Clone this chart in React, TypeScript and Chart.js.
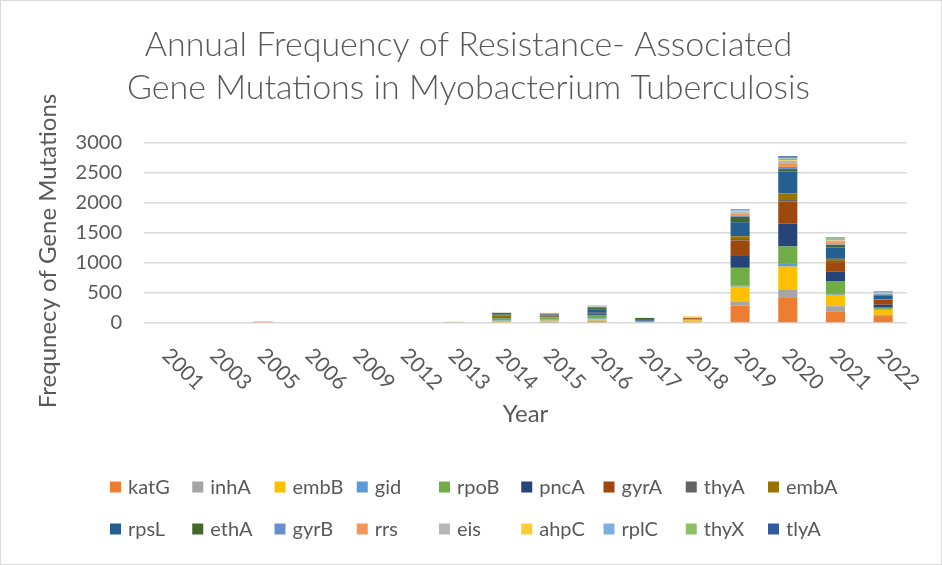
import { useEffect, useRef } from 'react';
import { Chart, registerables } from 'chart.js';

Chart.register(...registerables);

const years = ['2001', '2003', '2005', '2006', '2009', '2012', '2013', '2014', '2015', '2016', '2017', '2018', '2019', '2020', '2021', '2022'];

// one array per gene, same order as years
const katG = [0, 0, 0, 0, 0, 0, 0, 0, 10, 30, 0, 15, 290, 430, 195, 115];
const inhA = [0, 0, 0, 0, 0, 0, 0, 10, 10, 10, 0, 0, 70, 120, 85, 20];
const embB = [0, 0, 0, 0, 0, 0, 0, 25, 20, 25, 0, 30, 245, 390, 190, 85];
const gid = [0, 0, 0, 0, 0, 0, 0, 10, 20, 10, 15, 0, 15, 45, 15, 15];
const rpoB = [0, 0, 0, 0, 0, 0, 0, 30, 35, 60, 15, 15, 300, 290, 215, 20];
const pncA = [0, 0, 0, 0, 0, 0, 0, 10, 10, 25, 10, 0, 210, 380, 160, 50];
const gyrA = [0, 0, 0, 0, 0, 0, 0, 15, 20, 10, 0, 20, 245, 370, 155, 80];
const thyA = [0, 0, 0, 0, 0, 0, 0, 0, 0, 0, 0, 0, 25, 40, 20, 5];
const embA = [0, 0, 0, 0, 0, 0, 0, 30, 10, 0, 0, 0, 45, 95, 35, 10];
const rpsL = [0, 0, 0, 0, 0, 0, 0, 10, 10, 50, 25, 0, 235, 365, 190, 60];
const ethA = [0, 0, 0, 0, 0, 0, 0, 30, 10, 40, 20, 0, 90, 40, 40, 10];
const gyrB = [0, 0, 0, 0, 0, 0, 0, 0, 0, 10, 0, 0, 15, 35, 10, 10];
const rrs = [0, 0, 25, 0, 0, 0, 0, 0, 0, 0, 0, 10, 40, 65, 40, 10];
const eis = [0, 0, 0, 0, 0, 0, 0, 0, 0, 10, 0, 0, 30, 35, 25, 5];
const ahpC = [0, 0, 0, 0, 0, 0, 0, 0, 15, 15, 0, 20, 10, 10, 10, 5];
const rplC = [0, 0, 0, 0, 0, 0, 0, 0, 0, 0, 0, 0, 15, 30, 15, 10];
const thyX = [0, 0, 0, 0, 0, 0, 20, 0, 0, 0, 0, 0, 10, 15, 10, 5];
const tlyA = [0, 0, 0, 0, 0, 0, 0, 0, 0, 0, 0, 0, 10, 25, 15, 10];

const genes = ['katG', 'inhA', 'embB', 'gid', 'rpoB', 'pncA', 'gyrA', 'thyA', 'embA', 'rpsL', 'ethA', 'gyrB', 'rrs', 'eis', 'ahpC', 'rplC', 'thyX', 'tlyA'];
const geneValues = [katG, inhA, embB, gid, rpoB, pncA, gyrA, thyA, embA, rpsL, ethA, gyrB, rrs, eis, ahpC, rplC, thyX, tlyA];
const geneColors = ['#ED7D31', '#A5A5A5', '#FFC000', '#5B9BD5', '#70AD47', '#264478', '#9E480E', '#636363', '#997300', '#255E91', '#43682B', '#698ED0', '#F1975A', '#B7B7B7', '#FFCD33', '#7CAFDD', '#8CC168', '#335AA1'];

const yTitle = 'Frequnecy of Gene Mutations';

const FONT = 'Lato, "Open Sans", sans-serif';
const GREY = '#595959';

// year labels run downwards to the right, which chart.js can't rotate to
const slantedYears = {
  id: 'slantedYears',
  afterDraw(chart: any) {
    const { ctx, scales } = chart;
    const x = scales.x;
    const y = scales.y;
    ctx.save();
    ctx.font = `21px ${FONT}`;
    ctx.fillStyle = GREY;
    ctx.textAlign = 'left';
    ctx.textBaseline = 'middle';
    (chart.data.labels as string[]).forEach((label, i) => {
      ctx.save();
      ctx.translate(x.getPixelForTick(i) - 2, y.bottom + 29);
      ctx.rotate(Math.PI / 4);
      ctx.fillText(label, 0, 0);
      ctx.restore();
    });

    // excel centres the axis title a bit lower than the plot area
    ctx.font = `24px ${FONT}`;
    ctx.textAlign = 'center';
    ctx.save();
    ctx.translate(47, (y.top + y.bottom) / 2 + 18);
    ctx.rotate(-Math.PI / 2);
    ctx.fillText(yTitle, 0, 0);
    ctx.restore();
    ctx.restore();
  },
};

// legend laid out in 9 columns like the excel one
const columnLegend = {
  id: 'columnLegend',
  afterDraw(chart: any) {
    const { ctx } = chart;
    ctx.save();
    ctx.font = `20px ${FONT}`;
    ctx.textAlign = 'left';
    ctx.textBaseline = 'middle';
    chart.data.datasets.forEach((ds: any, i: number) => {
      const col = i % 9;
      const row = Math.floor(i / 9);
      const bx = 109 + col * 82.25;
      const by = 486 + row * 42;
      ctx.fillStyle = ds.backgroundColor;
      ctx.fillRect(bx, by - 5.5, 11, 11);
      ctx.fillStyle = GREY;
      ctx.fillText(ds.label, bx + 18, by + 1);
    });
    ctx.restore();
  },
};

function MutationChart() {
  const canvasRef = useRef<HTMLCanvasElement | null>(null);

  useEffect(() => {
    if (!canvasRef.current) return;
    const ctx = canvasRef.current.getContext('2d');
    if (!ctx) return;

    const chart = new Chart(ctx, {
      type: 'bar',
      data: {
        labels: years,
        datasets: genes.map((g, i) => ({
          label: g,
          data: geneValues[i],
          backgroundColor: geneColors[i],
          borderWidth: 0,
          barPercentage: 0.4,
          categoryPercentage: 1,
        })),
      },
      options: {
        responsive: false,
        animation: false,
        layout: { padding: { left: 29, right: 34, top: 0, bottom: 131 } },
        plugins: {
          legend: { display: false },
          tooltip: { enabled: false },
          title: {
            display: true,
            text: ['Annual Frequency of Resistance- Associated', 'Gene Mutations in Myobacterium Tuberculosis'],
            color: GREY,
            font: { family: FONT, size: 34, weight: 300, lineHeight: 1.265 },
            padding: { top: 23, bottom: 33 },
          },
        },
        scales: {
          x: {
            stacked: true,
            grid: { display: false },
            border: { display: false },
            ticks: { display: false },
            title: {
              display: true,
              text: 'Year',
              color: GREY,
              font: { family: FONT, size: 24 },
              padding: { top: 0, bottom: 4 },
            },
            afterFit: (scale: any) => {
              scale.height = 110;
            },
          },
          y: {
            stacked: true,
            min: 0,
            max: 3000,
            border: { display: false },
            grid: { color: '#D9D9D9', lineWidth: 1.5, drawTicks: false },
            ticks: {
              stepSize: 500,
              padding: 22,
              color: GREY,
              font: { family: FONT, size: 20 },
              callback: (v: any) => String(v),
            },
            afterFit: (scale: any) => {
              scale.width = 114;
            },
          },
        },
      },
      plugins: [slantedYears, columnLegend],
    });

    return () => chart.destroy();
  }, []);

  return <canvas ref={canvasRef} width={940} height={563} style={{ display: 'block' }} />;
}

export default function App() {
  return (
    <div
      style={{
        position: 'fixed',
        left: 0,
        top: 0,
        width: 942,
        height: 565,
        boxSizing: 'border-box',
        border: '1px solid #D9D9D9',
        background: '#fff',
      }}
    >
      <MutationChart />
    </div>
  );
}
